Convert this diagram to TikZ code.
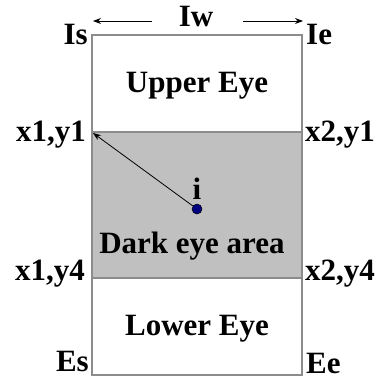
\documentclass[tikz,border=0pt]{standalone}
\usepackage{fontspec}
\setmainfont{Liberation Serif}
\usetikzlibrary{arrows.meta}
\definecolor{boxline}{HTML}{8C8C8C}
\definecolor{darkfill}{HTML}{C0C0C0}
\definecolor{dotblue}{HTML}{000080}
\tikzset{
  lbl/.style={font=\bfseries\fontsize{31}{34}\selectfont, inner sep=0pt},
  boxedge/.style={draw=boxline, line width=1.5pt},
  thinarrow/.style={draw=black, line width=0.8pt, -{Stealth[length=8pt,width=6pt]}}
}
\begin{document}
\begin{tikzpicture}[x=1pt,y=-1pt]
\useasboundingbox (0,0) rectangle (379,383);
\fill[darkfill] (92,132) rectangle (302,278);
\draw[boxedge] (92,35) rectangle (302,375);
\draw[boxedge] (92,132) -- (302,132);
\draw[boxedge] (92,278) -- (302,278);
\coordinate (tl) at (93,133);
\node[lbl, anchor=base] (iw) at (196,26) {Iw};
\coordinate (wl) at (93,21);
\coordinate (wr) at (303,21);
\coordinate (wlt) at (152,21);
\coordinate (wrt) at (243,21);
\draw[thinarrow] (wlt) -- (wl);
\draw[thinarrow] (wrt) -- (wr);
\node[lbl, anchor=base east] (is) at (88,44) {Is};
\node[lbl, anchor=base west] (ie) at (306,44) {Ie};
\node[lbl, anchor=base] (upper) at (197,92) {Upper Eye};
\node[lbl, anchor=base east] (x1y1) at (86,141) {x1,y1};
\node[lbl, anchor=base west] (x2y1) at (305,141) {x2,y1};
\node[circle, fill=dotblue, draw=black, line width=0.5pt, minimum size=10pt, inner sep=0pt] (i) at (197,209) {};
\node[lbl, anchor=base] (ilbl) at (197,199) {i};
\draw[thinarrow] (i) -- (tl);
\node[lbl, anchor=base] (dark) at (192,253) {Dark eye area};
\node[lbl, anchor=base east] (x1y4) at (85,280) {x1,y4};
\node[lbl, anchor=base west] (x2y4) at (305,280) {x2,y4};
\node[lbl, anchor=base] (lower) at (197,335) {Lower Eye};
\node[lbl, anchor=base east] (es) at (89,371) {Es};
\node[lbl, anchor=base west] (ee) at (306,373) {Ee};
\end{tikzpicture}
\end{document}
